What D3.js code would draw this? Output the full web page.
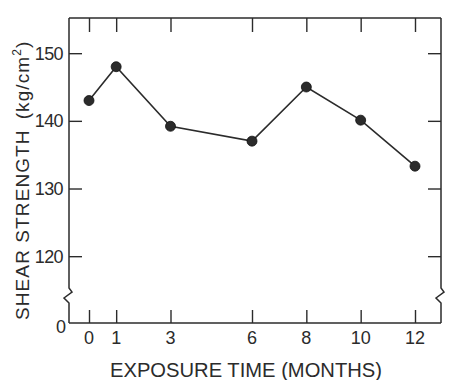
<!DOCTYPE html>
<html>
<head>
<meta charset="utf-8">
<script src="https://cdn.jsdelivr.net/npm/d3@7"></script>
<style>
  html, body { margin: 0; padding: 0; background: #fff; }
  svg { display: block; }
  text { font-family: "Liberation Sans", Arial, sans-serif; fill: #2b2b2b; }
</style>
</head>
<body>
<svg id="chart" width="449" height="380"></svg>
<script>
// ---- data ----
const months = [0, 1, 3, 6, 8, 10, 12];
const strength = [143.0, 148.0, 139.2, 137.0, 145.0, 140.1, 133.3];
const yTicks = [120, 130, 140, 150];
const xTickLabels = ["0", "1", "3", "6", "8", "10", "12"];
const yTitle = "SHEAR STRENGTH";
const yUnit = "(kg/cm";
const xTitle = "EXPOSURE TIME (MONTHS)";

// ---- layout ----
const mLeft = 69, mRight = 441, mTop = 18, mBottom = 323;
const ink = "#2b2b2b";
const svg = d3.select("#chart");

const x = d3.scaleLinear().domain([0, 12]).range([89, 415]);
// broken axis: 0 at baseline, 112..155.2 linear
const y = d3.scaleLinear().domain([0, 112, 155.2]).range([mBottom, 310.3, mTop]);

const g = svg.append("g");

// frame with axis breaks
const brkTop = 288, brkBot = 303;
function sideWithBreak(xx) {
  const p = d3.path();
  p.moveTo(xx, mTop);
  p.lineTo(xx, brkTop);
  p.lineTo(xx + 3, brkTop + 4);
  p.lineTo(xx - 5, brkTop + 10);
  p.lineTo(xx, brkBot);
  p.lineTo(xx, mBottom);
  return p.toString();
}
g.append("path").attr("d", sideWithBreak(mLeft))
  .attr("fill", "none").attr("stroke", ink).attr("stroke-width", 1.5);
g.append("path").attr("d", sideWithBreak(mRight))
  .attr("fill", "none").attr("stroke", ink).attr("stroke-width", 1.5);
g.append("line").attr("x1", mLeft).attr("x2", mRight).attr("y1", mTop).attr("y2", mTop)
  .attr("stroke", ink).attr("stroke-width", 1.5);
g.append("line").attr("x1", mLeft).attr("x2", mRight).attr("y1", mBottom).attr("y2", mBottom)
  .attr("stroke", ink).attr("stroke-width", 1.5);

// inward ticks via d3 axes
const tickLen = 13;
const axL = d3.axisRight(y).tickValues(yTicks).tickSize(tickLen).tickFormat("");
const axR = d3.axisLeft(y).tickValues(yTicks).tickSize(tickLen).tickFormat("");
const axT = d3.axisBottom(x).tickValues(months).tickSize(14).tickFormat("");
const axB = d3.axisTop(x).tickValues(months).tickSize(13).tickFormat("");

function styleAxis(sel) {
  sel.select(".domain").remove();
  sel.selectAll(".tick line").attr("stroke", ink).attr("stroke-width", 1.4);
}
g.append("g").attr("transform", `translate(${mLeft},0)`).call(axL).call(styleAxis);
g.append("g").attr("transform", `translate(${mRight},0)`).call(axR).call(styleAxis);
g.append("g").attr("transform", `translate(0,${mTop})`).call(axT).call(styleAxis);
g.append("g").attr("transform", `translate(0,${mBottom})`).call(axB).call(styleAxis);

// y tick labels
g.selectAll(".ylab").data(yTicks).enter().append("text")
  .attr("class", "ylab")
  .attr("x", 63).attr("y", d => y(d)).attr("dy", "0.36em")
  .attr("text-anchor", "end").style("font-size", "18px")
  .style("letter-spacing", "-0.6px")
  .text(d => d);
g.append("text").attr("x", 66).attr("y", y(0) + 4).attr("dy", "0.36em")
  .attr("text-anchor", "end").style("font-size", "18px").text("0");

// x tick labels
g.selectAll(".xlab").data(months).enter().append("text")
  .attr("class", "xlab")
  .attr("x", d => x(d)).attr("y", 338).attr("dy", "0.36em")
  .attr("text-anchor", "middle").style("font-size", "18px")
  .text((d, i) => xTickLabels[i]);

// titles
g.append("text").attr("x", 246).attr("y", 377)
  .attr("text-anchor", "middle").style("font-size", "20px")
  .attr("textLength", 272).attr("lengthAdjust", "spacingAndGlyphs")
  .text(xTitle);

const yt = g.append("text")
  .attr("transform", "translate(29,320) rotate(-90)")
  .attr("text-anchor", "start").style("font-size", "19px")
  .style("letter-spacing", "1.1px");
yt.append("tspan").text(yTitle);
yt.append("tspan").attr("dx", 10).text(yUnit);
yt.append("tspan").attr("dy", -8).style("font-size", "12px").text("2");
yt.append("tspan").attr("dy", 8).text(")");

// series line + points
const pts = months.map((m, i) => [m, strength[i]]);
g.append("path").datum(pts)
  .attr("d", d3.line().x(d => x(d[0])).y(d => y(d[1])))
  .attr("fill", "none").attr("stroke", ink).attr("stroke-width", 1.6);
g.selectAll(".pt").data(pts).enter().append("circle")
  .attr("class", "pt")
  .attr("cx", d => x(d[0])).attr("cy", d => y(d[1])).attr("r", 5)
  .attr("fill", ink).attr("stroke", "#111").attr("stroke-width", 0.8);
</script>
</body>
</html>
